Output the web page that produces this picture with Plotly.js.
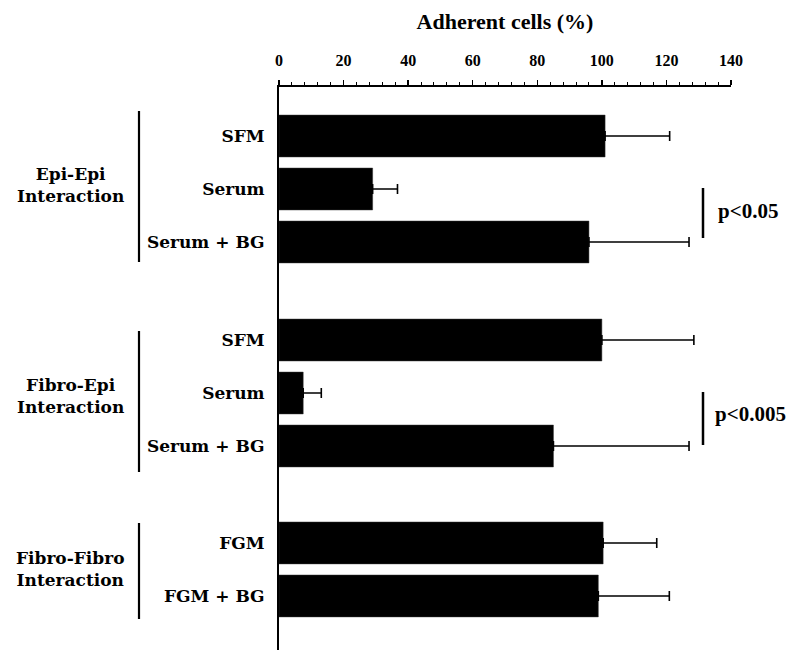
<!DOCTYPE html>
<html>
<head>
<meta charset="utf-8">
<script src="https://cdn.plot.ly/plotly-3.0.1.min.js"></script>
<style>html,body{margin:0;padding:0;background:#fff;}#chart{width:800px;height:656px;}</style>
</head>
<body>
<div id="chart"></div>
<script>
// ---- data ----
var groupLabels = ['Epi-Epi<br>Interaction', 'Fibro-Epi<br>Interaction', 'Fibro-Fibro<br>Interaction'];
var epiEpiConditions = ['SFM', 'Serum', 'Serum + BG'];
var epiEpiValues = [101, 29, 96];
var epiEpiErrors = [20, 7.7, 31];
var fibroEpiConditions = ['SFM', 'Serum', 'Serum + BG'];
var fibroEpiValues = [100, 7.5, 85];
var fibroEpiErrors = [28.5, 5.6, 42];
var fibroFibroConditions = ['FGM', 'FGM + BG'];
var fibroFibroValues = [100.4, 98.9];
var fibroFibroErrors = [16.6, 22];
var significanceLabels = ['p<0.05', 'p<0.005'];
var xTickValues = [0, 20, 40, 60, 80, 100, 120, 140];

// ---- layout helpers ----
var W = 800, H = 656;
var mL = 279, mR = 69, mT = 87, mB = 6;
var plotW = W - mL - mR, plotH = H - mT - mB;
function px(x) { return (x - mL) / plotW; }
function py(y) { return (H - mB - y) / plotH; }

var groups = [
  {cond: epiEpiConditions, val: epiEpiValues, err: epiEpiErrors, start: 0},
  {cond: fibroEpiConditions, val: fibroEpiValues, err: fibroEpiErrors, start: 3.85},
  {cond: fibroFibroConditions, val: fibroFibroValues, err: fibroFibroErrors, start: 7.68}
];
var ys = [], xs = [], es = [], labels = [];
groups.forEach(function (g) {
  g.cond.forEach(function (c, i) {
    ys.push(g.start + i); xs.push(g.val[i]); es.push(g.err[i]); labels.push(c);
  });
});

var trace = {
  type: 'bar', orientation: 'h',
  x: xs, y: ys, width: 0.79,
  marker: {color: '#000000', line: {color: '#333', width: 0.5}},
  error_x: {type: 'data', array: es, arrayminus: es.map(function () { return 0; }),
            symmetric: false, color: '#000', thickness: 1.6, width: 5},
  hoverinfo: 'x'
};

var serif = 'Liberation Serif, Times New Roman, serif';
var wideSerif = 'DejaVu Serif, serif';

var shapes = [
  // group brackets
  {type: 'line', xref: 'paper', yref: 'paper', x0: px(139), x1: px(139), y0: py(111), y1: py(262), line: {color: '#000', width: 2.2}},
  {type: 'line', xref: 'paper', yref: 'paper', x0: px(139), x1: px(139), y0: py(331), y1: py(472), line: {color: '#000', width: 2.2}},
  {type: 'line', xref: 'paper', yref: 'paper', x0: px(139), x1: px(139), y0: py(523), y1: py(619), line: {color: '#000', width: 2.2}},
  // significance bars
  {type: 'line', xref: 'paper', yref: 'paper', x0: px(703), x1: px(703), y0: py(188), y1: py(238), line: {color: '#000', width: 2.5}},
  {type: 'line', xref: 'paper', yref: 'paper', x0: px(703), x1: px(703), y0: py(392), y1: py(445), line: {color: '#000', width: 2.5}}
];

var groupLabelY = [185, 396, 569];
var annotations = groupLabels.map(function (t, i) {
  return {text: t, xref: 'paper', yref: 'paper', x: px(70), y: py(groupLabelY[i]),
          xanchor: 'center', yanchor: 'middle', showarrow: false, align: 'center',
          font: {family: wideSerif, size: 17, color: '#000', weight: 'bold'}};
});
annotations.push({text: significanceLabels[0], xref: 'paper', yref: 'paper', x: px(716), y: py(211),
  xanchor: 'left', yanchor: 'middle', showarrow: false,
  font: {family: serif, size: 21, color: '#000', weight: 'bold'}});
annotations.push({text: significanceLabels[1], xref: 'paper', yref: 'paper', x: px(713), y: py(414),
  xanchor: 'left', yanchor: 'middle', showarrow: false,
  font: {family: serif, size: 21, color: '#000', weight: 'bold'}});

var layout = {
  width: W, height: H,
  margin: {l: mL, r: mR, t: mT, b: mB, pad: 0},
  paper_bgcolor: '#fff', plot_bgcolor: '#fff',
  showlegend: false,
  bargap: 0.2,
  xaxis: {
    side: 'top', range: [0, 140], autorange: false,
    tickvals: xTickValues, ticktext: xTickValues.map(String),
    ticks: 'outside', ticklen: 5, tickwidth: 1.5, tickcolor: '#000',
    minor: {dtick: 4, tick0: 0, ticks: 'outside', ticklen: 3, tickwidth: 1, tickcolor: '#000'},
    showline: true, linecolor: '#000', linewidth: 1.8,
    showgrid: false, zeroline: false,
    tickfont: {family: serif, size: 16, color: '#000', weight: 'bold'},
    ticklabelstandoff: 8,
    title: {text: 'Adherent cells (%)', standoff: 16,
            font: {family: serif, size: 22, color: '#000', weight: 'bold'}}
  },
  yaxis: {
    range: [9.70, -0.925], autorange: false,
    tickvals: ys, ticktext: labels,
    ticks: '', showline: true, linecolor: '#000', linewidth: 2,
    showgrid: false, zeroline: false,
    tickfont: {family: wideSerif, size: 17, color: '#000', weight: 'bold'},
    ticklabelstandoff: 9
  },
  shapes: shapes,
  annotations: annotations
};

Plotly.newPlot('chart', [trace], layout, {displayModeBar: false, staticPlot: true});
</script>
</body>
</html>
